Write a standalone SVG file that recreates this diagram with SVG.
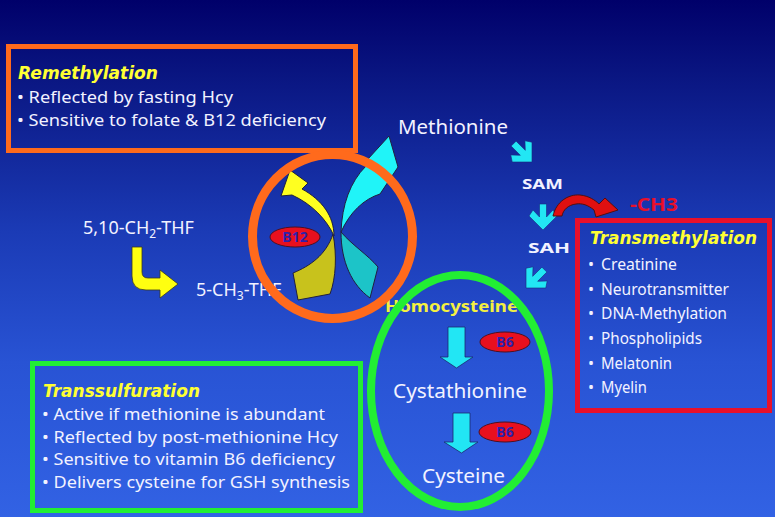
<svg xmlns="http://www.w3.org/2000/svg" width="775" height="517" viewBox="0 0 775 517">
<defs>
<linearGradient id="bg" x1="0" y1="0" x2="0" y2="1">
<stop offset="0" stop-color="#00006a"/>
<stop offset="0.15" stop-color="#0a1682"/>
<stop offset="0.45" stop-color="#1b3bb6"/>
<stop offset="0.7" stop-color="#2853d4"/>
<stop offset="1" stop-color="#3262e4"/>
</linearGradient>
<path id="chev" d="M0,0 L-14,-14 L-10,-20 L-3.5,-13 L-3.5,-26 L3.5,-26 L3.5,-13 L10,-20 L14,-14 Z" fill="#22e6f4" stroke="#1a2a80" stroke-width="0.6"/>
<style>
text{font-family:"Noto Sans","Liberation Sans",sans-serif;fill:#f2f2ff}
.t{font-weight:bold;font-style:italic;fill:#ffff33;font-size:17px;font-family:"DejaVu Sans","Noto Sans",sans-serif}
.b{font-size:17px}
.m{font-size:16px}
.big{font-size:19px}
.bold{font-weight:bold;font-size:15px}
.vit{font-weight:bold;font-size:14px;fill:#3020a8;text-anchor:middle}
.pill{fill:#e8101e;stroke:#501020;stroke-width:1}
.blk{fill:#22e6f4;stroke:#1a2a70;stroke-width:0.8}
</style>
</defs>
<rect width="775" height="517" fill="url(#bg)"/>

<g id="remethylation">
<rect x="8.5" y="46.5" width="347" height="104" fill="none" stroke="#ff6a1c" stroke-width="5"/>
<text class="t" x="18" y="79" textLength="140" lengthAdjust="spacingAndGlyphs">Remethylation</text>
<text class="b" x="17" y="103" textLength="216" lengthAdjust="spacingAndGlyphs">• Reflected by fasting Hcy</text>
<text class="b" x="17" y="126" textLength="309" lengthAdjust="spacingAndGlyphs">• Sensitive to folate &amp; B12 deficiency</text>
</g>

<g id="transmethylation">
<rect x="577.5" y="220.5" width="192" height="190" fill="none" stroke="#e8102a" stroke-width="5"/>
<text class="t" x="590" y="244" font-size="16" textLength="167" lengthAdjust="spacingAndGlyphs">Transmethylation</text>
<g class="m">
<text x="588" y="270">•</text><text x="601" y="270" textLength="76" lengthAdjust="spacingAndGlyphs">Creatinine</text>
<text x="588" y="295">•</text><text x="601" y="295" textLength="128" lengthAdjust="spacingAndGlyphs">Neurotransmitter</text>
<text x="588" y="319">•</text><text x="601" y="319" textLength="126" lengthAdjust="spacingAndGlyphs">DNA-Methylation</text>
<text x="588" y="344">•</text><text x="601" y="344" textLength="101" lengthAdjust="spacingAndGlyphs">Phospholipids</text>
<text x="588" y="369">•</text><text x="601" y="369" textLength="71" lengthAdjust="spacingAndGlyphs">Melatonin</text>
<text x="588" y="393">•</text><text x="601" y="393" textLength="46" lengthAdjust="spacingAndGlyphs">Myelin</text>
</g>
</g>

<g id="transsulfuration">
<rect x="32.5" y="363.5" width="328" height="147" fill="none" stroke="#22ee33" stroke-width="5"/>
<text class="t" x="43" y="397" textLength="157" lengthAdjust="spacingAndGlyphs">Transsulfuration</text>
<text class="b" x="42" y="420" textLength="283" lengthAdjust="spacingAndGlyphs">• Active if methionine is abundant</text>
<text class="b" x="42" y="443" textLength="296" lengthAdjust="spacingAndGlyphs">• Reflected by post-methionine Hcy</text>
<text class="b" x="42" y="465" textLength="293" lengthAdjust="spacingAndGlyphs">• Sensitive to vitamin B6 deficiency</text>
<text class="b" x="42" y="488" textLength="308" lengthAdjust="spacingAndGlyphs">• Delivers cysteine for GSH synthesis</text>
</g>

<g id="methionine"><text class="big" x="398" y="134" textLength="110" lengthAdjust="spacingAndGlyphs">Methionine</text></g>
<g id="sam"><text class="bold" x="522" y="189" textLength="41" lengthAdjust="spacingAndGlyphs">SAM</text></g>
<g id="sah"><text class="bold" x="528" y="253" textLength="42" lengthAdjust="spacingAndGlyphs">SAH</text></g>
<g id="ch3"><text x="630" y="211" font-size="17" font-weight="bold" style="fill:#e8102a" textLength="48" lengthAdjust="spacingAndGlyphs">-CH3</text></g>
<g id="ch2thf"><text x="83" y="234" font-size="18">5,10-CH<tspan font-size="12" dy="4">2</tspan><tspan dy="-4">-THF</tspan></text></g>
<g id="ch3thf"><text x="196" y="296" font-size="18">5-CH<tspan font-size="12" dy="4">3</tspan><tspan dy="-4">-THF</tspan></text></g>
<g id="homocysteine"><text x="385" y="312" font-size="16" font-weight="bold" style="fill:#f4f040" textLength="133" lengthAdjust="spacingAndGlyphs">Homocysteine</text></g>
<g id="cystathionine"><text class="big" x="393" y="398" textLength="134" lengthAdjust="spacingAndGlyphs">Cystathionine</text></g>
<g id="cysteine"><text class="big" x="422" y="483" textLength="83" lengthAdjust="spacingAndGlyphs">Cysteine</text></g>

<g id="connectors">
<use href="#chev" transform="translate(532,162) rotate(-45)"/>
<use href="#chev" transform="translate(543,230)"/>
<use href="#chev" transform="translate(526,288) rotate(45)"/>
<path d="M553,216 C556,202 568,194 580,195 C589,196 595,200 599,204 L605,198 L618,210 L596,217 L594,210 C588,205 582,203 576,204 C568,205 563,210 562,216 Z" fill="#e01010" stroke="#501010" stroke-width="1"/>
<path d="M132,247 L142,247 L142,272 Q142,278 148,278 L160,278 L160,270 L178,284 L160,298 L160,290 L146,290 Q132,290 132,276 Z" fill="#ffff10" stroke="#3a3a20" stroke-width="0.8"/>
<path class="blk" d="M448,327 L465,327 L465,357 L473,357 L456.5,368 L440,357 L448,357 Z"/>
<path class="blk" d="M453,413 L470,413 L470,442 L478,442 L461.5,453 L444,442 L453,442 Z"/>
<g stroke="#202040" stroke-width="1">
<path d="M333,234 C337,255 336,278 330,294 L298,300 L293,273 C310,266 326,255 333,234 Z" fill="#c8c21c"/>
<path d="M334,236 C334,216 322,200 302,189 L308,183 L290,170 L281,196 L292,195 C312,204 327,220 334,236 Z" fill="#ffff20"/>
<path d="M341,232 C352,245 368,255 378,267 L370,298 C352,285 341,262 341,232 Z" fill="#1cc4c8"/>
<path d="M341,232 C342,205 350,182 366,166 L368,159 L389,136 L398,167 L380,194 C364,199 350,212 341,232 Z" fill="#20f4f8"/>
</g>
</g>

<g id="b12">
<ellipse class="pill" cx="295" cy="237" rx="25" ry="10"/>
<text class="vit" x="295" y="242">B12</text>
</g>
<g id="b6a">
<ellipse class="pill" cx="505" cy="342" rx="25" ry="10"/>
<text class="vit" x="505" y="347">B6</text>
</g>
<g id="b6b">
<ellipse class="pill" cx="505" cy="432" rx="26" ry="10"/>
<text class="vit" x="505" y="437">B6</text>
</g>

<g id="transsulfuration-cycle">
<ellipse cx="460" cy="391" rx="89" ry="116" fill="none" stroke="#22ee33" stroke-width="8"/>
</g>
<g id="remethylation-cycle">
<ellipse cx="332.5" cy="236.5" rx="80" ry="82" fill="none" stroke="#ff6a1c" stroke-width="9"/>
</g>
</svg>
